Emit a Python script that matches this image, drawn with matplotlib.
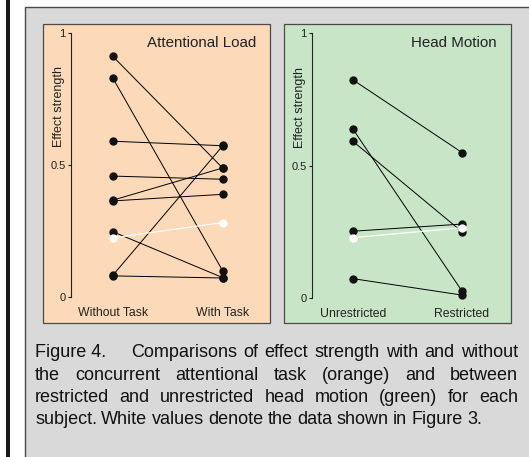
import matplotlib.pyplot as plt
from matplotlib.patches import Rectangle

plt.rcParams["font.family"] = ["Liberation Sans", "DejaVu Sans"]

W, H = 529, 457

# =========================
# data
# =========================
load_labels = ["Without Task", "With Task"]
load_without = [0.911, 0.828, 0.590, 0.458, 0.367, 0.364, 0.247, 0.083, 0.080]
load_with = [0.487, 0.097, 0.573, 0.446, 0.489, 0.389, 0.073, 0.574, 0.072]
load_white = [0.224, 0.282]

motion_labels = ["Unrestricted", "Restricted"]
motion_unres = [0.823, 0.637, 0.591, 0.252, 0.073]
motion_res = [0.549, 0.026, 0.250, 0.279, 0.011]
motion_white = [0.228, 0.265]

caption = [
    ["Figure 4."] + "Comparisons of effect strength with and without".split(),
    "the concurrent attentional task (orange) and between".split(),
    "restricted and unrestricted head motion (green) for each".split(),
    "subject. White values denote the data shown in Figure 3.".split(),
]

ORANGE = "#fbd9b9"
GREEN = "#c9e5c7"
GRAY = "#d9d9d9"
EDGE = "#4a4a4a"
INK = "#222222"


def fbox(x0, y0, x1, y1):
    """pixel box (top-left origin) -> figure fraction [l, b, w, h]"""
    return [x0 / W, 1 - y1 / H, (x1 - x0) / W, (y1 - y0) / H]


def add_rect(x0, y0, x1, y1, fc, ec, lw, z):
    l, b, w, h = fbox(x0, y0, x1, y1)
    fig.patches.append(Rectangle((l, b), w, h, transform=fig.transFigure,
                                 facecolor=fc, edgecolor=ec, lw=lw, zorder=z))


def draw_panel(panel_px, ax_px, cats_px, bg, title, labels, left, right, white):
    add_rect(*panel_px, fc=bg, ec=EDGE, lw=0.9, z=-1)
    ax = fig.add_axes(fbox(*ax_px))
    ax.patch.set_visible(False)

    c0, c1 = cats_px
    span = c1 - c0
    ax.set_xlim((ax_px[0] - c0) / span, (ax_px[2] - c0) / span)
    ax.set_ylim(0, 1)

    for a, b in zip(left, right):
        ax.plot([0, 1], [a, b], color="black", lw=0.7, clip_on=False, zorder=2)
    ax.plot([0] * len(left), left, "o", color="#111111", ms=5.0, clip_on=False, zorder=3)
    ax.plot([1] * len(right), right, "o", color="#111111", ms=5.0, clip_on=False, zorder=3)
    ax.plot([0, 1], white, "-o", color="white", lw=0.9, ms=5.0, clip_on=False, zorder=4)

    for s in ["top", "right", "bottom"]:
        ax.spines[s].set_visible(False)
    ax.spines["left"].set_color(INK)
    ax.spines["left"].set_linewidth(0.8)
    ax.set_yticks([0, 0.5, 1])
    ax.set_yticklabels(["0", "0.5", "1"])
    ax.tick_params(axis="y", length=2.5, width=0.8, pad=1.5, labelsize=8, colors=INK)
    ax.set_xticks([0, 1])
    ax.set_xticklabels(labels)
    ax.tick_params(axis="x", length=0, pad=7.5, labelsize=8.8, colors=INK)
    ax.set_ylabel("Effect strength", fontsize=9, color=INK)
    ax.yaxis.set_label_coords(-0.035, 0.72)
    ax.text(1.0, 0.962, title, transform=ax.transAxes,
            ha="right", va="center", fontsize=10.9, color=INK)
    return ax


def justify(words, x0, x1, baseline, size, first_gap=None):
    texts = [fig.text(0, 1 - baseline / H, w, fontsize=size, va="baseline", color="#111111")
             for w in words]
    r = fig.canvas.get_renderer()
    widths = [t.get_window_extent(r).width for t in texts]
    if first_gap is not None:
        texts[0].set_x(x0 / W)
        x0 = first_gap
        texts, widths = texts[1:], widths[1:]
    gap = ((x1 - x0) - sum(widths)) / max(len(texts) - 1, 1)
    x = x0
    for t, w in zip(texts, widths):
        t.set_x(x / W)
        x += w + gap


fig = plt.figure(figsize=(W / 100, H / 100), dpi=100)

# page decorations
add_rect(6, -5, 10, H + 5, fc="#1a1a1a", ec="none", lw=0, z=-3)
add_rect(25, 7, W + 10, H + 5, fc=GRAY, ec=EDGE, lw=1.0, z=-2)

draw_panel((43, 24, 270, 323), (71, 33, 256, 297), (113, 223), ORANGE,
           "Attentional Load", load_labels, load_without, load_with, load_white)
draw_panel((284, 24, 511, 323), (312, 33, 497, 298), (353, 462), GREEN,
           "Head Motion", motion_labels, motion_unres, motion_res, motion_white)

# caption, justified like the original
justify(caption[0], 35, 518, 357, 13, first_gap=131)
justify(caption[1], 35, 518, 379.5, 13)
justify(caption[2], 35, 518, 401.5, 13)
justify(caption[3], 35, 482, 423.5, 13)

fig.savefig("out.png", dpi=100)
